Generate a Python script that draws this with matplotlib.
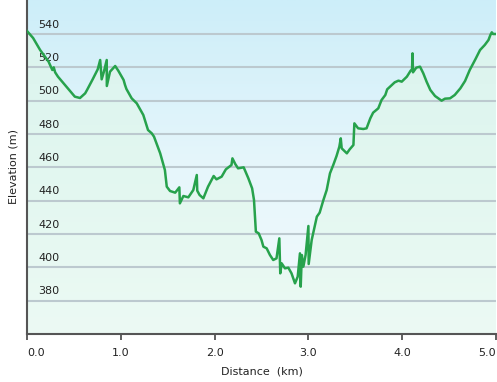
import numpy as np
import matplotlib
matplotlib.use("Agg")
import matplotlib.pyplot as plt
from matplotlib.colors import LinearSegmentedColormap
from matplotlib.patches import Polygon

distance_km = [0.0, 0.065, 0.14, 0.23, 0.27, 0.285, 0.30, 0.33, 0.42, 0.51, 0.565, 0.62, 0.64, 0.70, 0.754,
               0.78, 0.796, 0.82, 0.85, 0.851, 0.885, 0.94, 0.973, 1.03, 1.045, 1.06, 1.116, 1.17, 1.24, 1.29,
               1.33, 1.354, 1.42, 1.47, 1.49, 1.525, 1.58, 1.624, 1.63, 1.667, 1.72, 1.773, 1.81, 1.815,
               1.84, 1.88, 1.93, 1.99, 2.02, 2.075, 2.12, 2.18, 2.19, 2.22, 2.25, 2.31, 2.36, 2.40, 2.42,
               2.44, 2.47, 2.50, 2.52, 2.555, 2.59, 2.625, 2.66, 2.69, 2.70, 2.715, 2.75, 2.786, 2.82,
               2.857, 2.886, 2.91, 2.918, 2.93, 2.946, 2.97, 3.0, 3.003, 3.035, 3.09, 3.12, 3.16, 3.195,
               3.23, 3.265, 3.30, 3.33, 3.345, 3.355, 3.41, 3.44, 3.48, 3.49, 3.53, 3.585, 3.62, 3.66,
               3.69, 3.745, 3.78, 3.82, 3.84, 3.89, 3.92, 3.96, 3.995, 4.05, 4.09, 4.105, 4.11, 4.115,
               4.15, 4.19, 4.225, 4.26, 4.30, 4.35, 4.40, 4.42, 4.456, 4.51, 4.56, 4.62, 4.67, 4.72, 4.78,
               4.83, 4.88, 4.92, 4.94, 4.955, 4.97, 5.0]
elevation_m = [541.8, 537.6, 530.4, 523.4, 518.4, 520.0, 517.0, 514.4, 508.4, 502.4, 501.6, 504.4, 506.4,
               512.8, 518.8, 524.4, 512.8, 517.4, 524.4, 508.8, 517.4, 520.8, 518.0, 512.4, 509.4, 507.0,
               501.4, 498.4, 491.4, 482.4, 480.4, 478.4, 468.4, 458.4, 448.4, 445.8, 444.8, 448.0, 438.4,
               442.8, 442.0, 446.4, 455.4, 446.0, 443.4, 441.4, 448.4, 454.8, 452.8, 454.4, 458.8, 461.4,
               465.4, 462.0, 459.4, 460.0, 453.4, 447.4, 440.4, 421.4, 420.4, 416.4, 412.4, 411.4, 407.4,
               404.4, 405.4, 417.4, 396.4, 402.4, 399.4, 399.8, 396.4, 390.4, 394.4, 408.4, 388.4, 407.4,
               400.4, 407.4, 424.8, 402.0, 416.4, 430.4, 432.8, 440.4, 446.4, 456.4, 461.4, 466.8, 472.4,
               477.4, 471.4, 468.4, 470.8, 473.4, 486.4, 483.4, 483.0, 483.4, 489.4, 492.8, 495.4, 500.4,
               503.4, 506.8, 509.4, 511.0, 512.0, 511.4, 514.4, 518.0, 518.8, 528.4, 517.0, 519.8, 520.4,
               516.4, 511.4, 506.4, 502.8, 500.8, 500.0, 501.2, 501.4, 503.4, 507.4, 511.8, 518.4, 524.8,
               530.4, 533.4, 536.4, 539.4, 541.0, 540.0, 540.0]

y_ticks = [380, 400, 420, 440, 460, 480, 500, 520, 540]
x_ticks = [0, 1, 2, 3, 4, 5]
x_tick_labels = ["0.0", "1.0", "2.0", "3.0", "4.0", "5.0"]

W, H = 497, 382
fig = plt.figure(figsize=(W / 100, H / 100), dpi=100)
fig.patch.set_facecolor("white")
ax = fig.add_axes([27 / W, (H - 334) / H, (496 - 27) / W, 334 / H])
xmin, xmax, ymin, ymax = 0, 5.0, 360, 560.4
ax.set_xlim(xmin, xmax)
ax.set_ylim(ymin, ymax)

# background gradient
bg = LinearSegmentedColormap.from_list("bg", ["#f3fbfd", "#e6f6fb", "#cdeef9"])
grad = np.linspace(0, 1, 256).reshape(-1, 1)
ax.imshow(grad, cmap=bg, aspect="auto", extent=[xmin, xmax, ymin, ymax], origin="lower", zorder=0)

# fill under curve with mint gradient
fillc = LinearSegmentedColormap.from_list("fill", ["#ecfaf4", "#e2f7f0", "#daf3ee"])
im = ax.imshow(grad, cmap=fillc, aspect="auto", extent=[xmin, xmax, ymin, ymax], origin="lower", zorder=1)
verts = [(distance_km[0], ymin)] + list(zip(distance_km, elevation_m)) + [(distance_km[-1], ymin)]
poly = Polygon(verts, closed=True, facecolor="none", edgecolor="none", transform=ax.transData)
ax.add_patch(poly)
im.set_clip_path(poly)

for yv in y_ticks:
    ax.axhline(yv, color="#bcc9cf", lw=1.5, zorder=2)
    ax.annotate(str(yv), xy=(0, yv), xycoords=("axes fraction", "data"), xytext=(8, 3),
                textcoords="offset points", ha="left", va="bottom", fontsize=8, color="#222222", zorder=3)

ax.plot(distance_km, elevation_m, color="#27a24c", lw=1.8, zorder=4, solid_joinstyle="round")

ax.set_yticks([])
ax.set_xticks(x_ticks)
ax.set_xticklabels(x_tick_labels, fontsize=8, color="#222222")
lbls = ax.get_xticklabels()
lbls[0].set_horizontalalignment("left")
lbls[-1].set_horizontalalignment("right")
ax.tick_params(axis="x", direction="out", length=4, width=1.2, color="#444444", pad=6)

for s in ["top", "right"]:
    ax.spines[s].set_visible(False)
for s in ["left", "bottom"]:
    ax.spines[s].set_color("#555555")
    ax.spines[s].set_linewidth(1.5)

ax.set_xlabel("Distance  (km)", fontsize=8, color="#222222", labelpad=6)
ax.set_ylabel("Elevation (m)", fontsize=8, color="#222222", labelpad=6)

fig.savefig("out.png", dpi=100)
